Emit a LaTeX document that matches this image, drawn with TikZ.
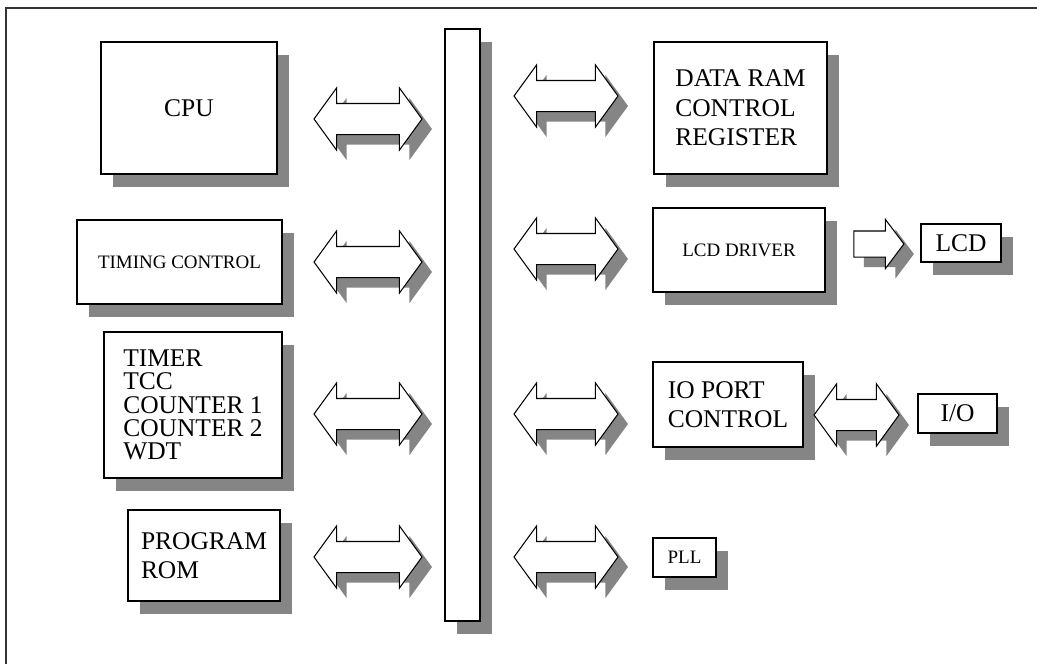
\documentclass[tikz,border=0pt]{standalone}
\usepackage{fontspec}
\setmainfont{Liberation Serif}
\usetikzlibrary{shapes.arrows, shadows}

\definecolor{shade}{HTML}{858585}

\begin{document}
\begin{tikzpicture}[x=0.02cm, y=-0.02cm]

\tikzset{block/.style = {shape=rectangle, draw, fill=white, line width=0.9pt, inner sep=0pt, align=left,
    font=\fontsize{14.5}{16.7}\selectfont,
    drop shadow={shadow xshift=0.24cm, shadow yshift=-0.26cm, fill=shade, opacity=1}}}
\tikzset{small/.style = {font=\fontsize{10.8}{13}\selectfont}}
\tikzset{busarrow/.style = {shape=double arrow, draw, fill=white, line width=0.6pt, inner xsep=0pt, inner ysep=0.3cm,
    minimum width=1.22cm, double arrow head extend=0.31cm, double arrow tip angle=108,
    drop shadow={shadow xshift=0.2cm, shadow yshift=-0.2cm, fill=shade, opacity=1}}}
\tikzset{outarrow/.style = {shape=single arrow, draw, fill=white, line width=0.6pt, inner xsep=0pt, inner ysep=0.25cm,
    minimum width=0.96cm, single arrow head extend=0.23cm, single arrow tip angle=106,
    drop shadow={shadow xshift=0.2cm, shadow yshift=-0.2cm, fill=shade, opacity=1}}}

\useasboundingbox (0,0) rectangle (1037,664);
%frame
\draw[line width=1.2pt, black!80] (6,664) -- (6,8) -- (1037,8);

%left blocks
\node[block, minimum width=3.52cm, minimum height=2.64cm] (cpu) at (189,108) {CPU};
\node[block, small, minimum width=4.1cm, minimum height=1.68cm] (timing) at (179.5,262) {TIMING CONTROL};
\node[block, minimum width=3.56cm, minimum height=2.92cm, font=\fontsize{14.5}{13.3}\selectfont] (timer) at (193,405) {TIMER\\TCC\\COUNTER 1\\COUNTER 2\\WDT};
\node[block, minimum width=3.04cm, minimum height=1.82cm] (rom) at (204,555.5) {PROGRAM\\ROM};

%bus
\node[block, minimum width=0.7cm, minimum height=11.84cm] (bus) at (462.5,325) {};

%right blocks
\node[block, minimum width=3.46cm, minimum height=2.64cm] (ram) at (740.5,108) {DATA RAM\\CONTROL\\REGISTER};
\node[block, small, minimum width=3.44cm, minimum height=1.68cm] (lcddrv) at (739,250) {LCD DRIVER};
\node[block, minimum width=3cm, minimum height=1.7cm] (ioport) at (728,404.5) {IO PORT\\CONTROL};
\node[block, small, minimum width=1.26cm, minimum height=0.78cm] (pll) at (684.5,557.5) {PLL};
\node[block, minimum width=1.6cm, minimum height=0.76cm] (lcd) at (961,243) {LCD};
\node[block, minimum width=1.58cm, minimum height=0.78cm] (io) at (957.5,413.5) {I/O};

%arrows
\foreach \y/\name in {119/cpu, 262/timing, 414/timer, 557/rom}
  \node[busarrow, minimum height=2.16cm] (\name-bus) at (368,\y) {};
\foreach \y/\name in {96/ram, 249/lcddrv, 414/ioport, 557/pll}
  \node[busarrow, minimum height=2.08cm] (bus-\name) at (566,\y) {};
\node[busarrow, minimum height=1.7cm] (ioport-io) at (856.5,415) {};
\node[outarrow, minimum height=1cm] (lcddrv-lcd) at (874,244) {};

\end{tikzpicture}
\end{document}
